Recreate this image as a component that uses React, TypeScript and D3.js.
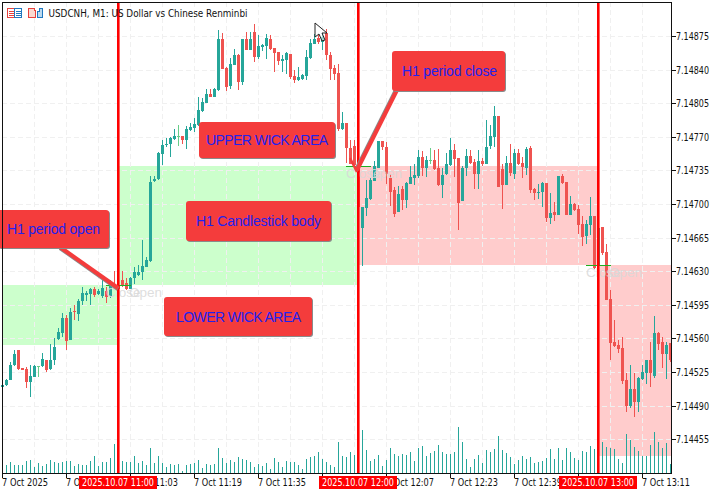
import React from 'react';
import * as d3 from 'd3';

const WIDTH = 724;
const HEIGHT = 494;
const PLOT = { left: 2, right: 671, top: 2, bottom: 473 };

const UP = '#26a69a';
const DOWN = '#ef5350';
const DOJI = '#66cc88';

// M1 bars, price in points above 7.14000 (first bar is 10:29)
const opens = [
  509,511,517,532,548,529,528,515,520,531,
  531,538,528,537,559,566,581,558,589,585,
  599,605,606,611,606,604,609,604,615,615,
  621,618,611,623,626,629,634,641,724,726,
  752,761,762,768,771,771,767,777,779,782,
  797,805,815,811,819,872,842,823,845,855,
  827,872,860,879,853,864,865,872,862,858,
  849,850,856,833,829,830,833,852,867,873,
  869,878,855,842,836,778,784,758,760,741,
  675,696,705,724,738,766,759,727,715,692,
  716,704,721,727,729,749,738,746,746,737,
  720,731,741,756,748,703,738,750,744,731,
  745,742,760,770,792,736,720,743,731,753,
  743,738,758,716,711,712,722,685,692,689,
  729,723,689,700,695,679,667,678,687,636,
  676,650,601,556,553,550,517,490,507,494,
  518,524,537,521,566,556,544,555,
];
const highs = [
  511,518,535,548,548,529,530,532,532,531,
  545,538,554,560,571,586,584,592,595,601,
  614,609,612,614,611,621,614,621,630,622,
  630,623,624,634,636,662,645,729,729,754,
  767,769,770,778,782,771,781,784,790,811,
  810,820,820,821,881,878,843,852,861,856,
  872,879,879,888,876,867,877,876,862,858,
  855,858,856,840,843,835,860,872,877,876,
  878,882,858,845,846,796,784,767,767,743,
  697,725,727,745,766,766,765,731,718,719,
  719,723,740,742,756,755,750,758,756,757,
  737,753,769,762,748,740,757,756,747,756,
  748,788,782,802,792,742,750,762,757,757,
  749,759,760,717,721,723,722,711,702,729,
  731,723,708,701,699,688,683,707,688,677,
  676,658,610,579,558,561,524,532,524,520,
  532,537,556,583,567,561,556,555,
];
const lows = [
  509,510,517,531,527,527,508,499,520,520,
  530,525,527,532,558,561,548,558,579,578,
  595,599,595,603,605,602,597,602,612,610,
  614,610,611,617,625,621,634,640,723,725,
  741,759,749,767,760,762,757,776,775,781,
  796,805,811,811,818,841,818,820,845,819,
  824,860,860,848,851,859,851,860,837,845,
  837,835,830,826,828,829,829,851,867,867,
  860,850,829,829,776,777,743,742,741,696,
  635,688,704,724,737,756,721,698,686,692,
  694,696,721,720,727,729,728,742,735,719,
  706,730,740,728,673,703,729,742,716,716,
  740,742,757,759,718,695,720,729,726,741,
  727,730,711,704,705,697,681,679,682,689,
  721,689,689,693,669,656,658,668,632,635,
  647,600,538,551,545,513,483,488,478,483,
  517,512,509,519,548,529,518,535,
];
const closes = [
  511,517,532,544,528,527,515,521,531,531,
  539,527,538,551,567,581,557,588,587,599,
  607,607,611,605,609,613,603,616,612,611,
  616,611,623,629,629,635,642,723,726,753,
  761,763,769,771,771,767,778,780,783,798,
  806,815,811,820,872,841,822,846,855,827,
  872,860,872,853,865,866,873,861,857,849,
  851,857,832,829,832,834,853,868,872,869,
  874,855,841,835,778,784,758,742,741,697,
  697,706,725,740,766,759,731,713,690,710,
  704,722,728,730,749,738,746,746,736,720,
  730,742,756,747,701,738,750,743,731,745,
  742,759,771,792,718,720,743,732,753,742,
  739,757,715,711,713,722,685,691,689,729,
  722,689,700,694,678,666,679,687,633,675,
  649,600,555,552,549,516,490,507,494,519,
  525,537,524,566,554,544,553,537,
];
const volumes = [
  6,8,11,8,8,8,12,13,6,10,7,
  9,13,11,10,11,12,12,7,9,8,
  8,12,17,7,11,11,15,29,20,12,
  11,11,17,10,12,8,25,10,17,10,
  6,9,8,9,2,8,9,10,13,5,
  9,8,9,25,15,10,13,11,16,
  14,13,11,6,9,7,10,4,15,11,
  6,12,11,11,8,4,14,16,17,21,
  14,11,8,6,31,17,16,21,18,20,
  43,23,12,14,18,7,13,25,19,17,
  19,18,21,12,25,27,17,20,22,28,
  21,19,19,21,46,31,14,6,14,18,
  10,23,21,24,37,23,20,16,9,13,
  17,14,16,10,11,12,15,24,14,25,
  13,25,21,15,13,22,21,27,24,22,
  31,26,25,24,14,10,39,33,26,22,17,17,28,41,31,25,30,9,
];

// H1 bars behind the M1 chart (bar index of the hour start, open, close in points)
const hourStarts = [-31, 29, 89, 149];
const hourOpens = [553, 616, 740, 636];
const hourCloses = [616, 740, 636, 437];

const periodBars = [29, 89, 149];
const periodLabels = ['2025.10.07 11:00', '2025.10.07 12:00', '2025.10.07 13:00'];
const periodLevels = [616, 740, 636];

const yTickLabels = ['7.14875', '7.14840', '7.14805', '7.14770', '7.14735', '7.14700', '7.14665', '7.14630', '7.14595', '7.14560', '7.14525', '7.14490', '7.14455'];
const xTickLabels = ['7 Oct 2025', '7 Oct 10:47', '7 Oct 11:03', '7 Oct 11:19', '7 Oct 11:35', '7 Oct 11:51', '7 Oct 12:07', '7 Oct 12:23', '7 Oct 12:39', '7 Oct 12:55', '7 Oct 13:11'];

const noteBoxes = [
  { text: 'H1 period open', x: -2, y: 210, w: 111, h: 38, tx: 7, tw: 93 },
  { text: 'UPPER WICK AREA', x: 199, y: 122, w: 136, h: 36, tx: 206, tw: 122 },
  { text: 'H1 Candlestick body', x: 186, y: 201, w: 145, h: 40, tx: 196, tw: 125 },
  { text: 'LOWER WICK AREA', x: 164, y: 297, w: 148, h: 39, tx: 176, tw: 125 },
  { text: 'H1 period close', x: 392, y: 51, w: 113, h: 40, tx: 402, tw: 95 },
];

const FONT = '"DejaVu Sans", sans-serif';
const NOTE_FONT = '"Liberation Sans", sans-serif';

export default function App() {
  const xScale = d3.scaleLinear().domain([0, 167]).range([PLOT.left, PLOT.left + 167 * 4]);
  const yScale = d3.scaleLinear().domain([7.14455, 7.14875]).range([439.2, 36]);
  const priceY = (pts: number) => yScale(7.14 + pts / 100000);
  const volY = d3.scaleLinear().domain([0, 100]).range([PLOT.bottom, PLOT.bottom - 100]);

  const gridX = d3.range(8, 168, 8).map(i => xScale(i));
  const xTicks = xTickLabels.map((label, k) => ({ label, x: xScale(k * 16) }));

  return (
    <svg width={WIDTH} height={HEIGHT} style={{ position: 'absolute', left: 0, top: 0, background: '#fff' }}>
      {/* H1 candles as shaded rectangles */}
      <g shapeRendering="crispEdges">
        {hourStarts.map((start, k) => {
          const x0 = Math.max(xScale(start), PLOT.left + 1);
          const x1 = k < hourStarts.length - 1 ? xScale(hourStarts[k + 1]) : PLOT.right;
          const top = Math.round(priceY(Math.max(hourOpens[k], hourCloses[k])));
          const bottom = Math.round(priceY(Math.min(hourOpens[k], hourCloses[k])));
          return (
            <rect key={k} x={x0} y={top} width={x1 - x0} height={bottom - top}
              fill={hourCloses[k] > hourOpens[k] ? '#ccffcc' : '#ffcccc'} />
          );
        })}
      </g>

      {/* grid */}
      <g stroke="#f0f0f0" strokeDasharray="5 3" shapeRendering="crispEdges">
        {yTickLabels.map(t => (
          <line key={t} x1={PLOT.left} x2={PLOT.right} y1={Math.round(yScale(+t)) + 0.5} y2={Math.round(yScale(+t)) + 0.5} />
        ))}
        {gridX.map(x => (
          <line key={x} x1={x + 0.5} x2={x + 0.5} y1={PLOT.top} y2={PLOT.bottom} />
        ))}
      </g>

      {/* volumes and candles */}
      <g shapeRendering="crispEdges">
        {volumes.map((v, i) => (
          <rect key={i} x={xScale(i)} y={volY(v)} width={1} height={PLOT.bottom - volY(v)} fill={UP} />
        ))}
        {opens.map((open, i) => {
          const close = closes[i];
          const color = close > open ? UP : close < open ? DOWN : DOJI;
          const hi = Math.round(priceY(highs[i]));
          const lo = Math.round(priceY(lows[i]));
          const top = Math.round(priceY(Math.max(open, close)));
          const bottom = Math.round(priceY(Math.min(open, close)));
          const x = xScale(i);
          return (
            <g key={i} fill={color}>
              <rect x={x} y={hi} width={1} height={Math.max(1, lo - hi)} />
              <rect x={x - 1} y={top} width={3} height={close === open ? 1 : Math.max(1, bottom - top)} />
            </g>
          );
        })}
      </g>

      {/* small green marks and Close/Open captions at each hour */}
      {periodBars.map((bar, k) => {
        const x = xScale(bar);
        const y = Math.round(priceY(periodLevels[k]));
        return (
          <g key={bar}>
            <rect x={x - 12} y={y} width={25} height={1} fill="#1fae1f" shapeRendering="crispEdges" />
            <text x={x - 12} y={y + 12} fontFamily={NOTE_FONT} fontSize={13.5} fill="#d8d8d8" fillOpacity={0.85}>Close</text>
            <text x={x + 11} y={y + 12} fontFamily={NOTE_FONT} fontSize={13.5} fill="#d8d8d8" fillOpacity={0.85}>Open</text>
          </g>
        );
      })}

      {/* hour lines */}
      <g fill="#ff0000">
        {periodBars.map(bar => (
          <rect key={bar} x={xScale(bar) - 1} y={PLOT.top} width={2.6} height={PLOT.bottom - PLOT.top} />
        ))}
      </g>

      {/* arrows */}
      <g fill="none">
        <path d="M60 247 L118 288" stroke="#8a8a8a" strokeWidth={4} transform="translate(0,1)" />
        <path d="M60 247 L118 288" stroke="#f43c3c" strokeWidth={4} />
        <path d="M398 88 L357 170" stroke="#8a8a8a" strokeWidth={4} transform="translate(-1,0)" />
        <path d="M398 88 L357 170" stroke="#f43c3c" strokeWidth={4} />
        <path d="M350 158 L357 172" stroke="#f43c3c" strokeWidth={2.5} />
      </g>

      {/* note boxes */}
      {noteBoxes.map(b => (
        <g key={b.text}>
          <rect x={b.x + 1} y={b.y + 1} width={b.w} height={b.h} rx={3} fill="#8a8a8a" />
          <rect x={b.x} y={b.y} width={b.w} height={b.h} rx={3} fill="#f43c3c" />
          <text x={b.tx} y={b.y + b.h / 2 + 5} textLength={b.tw} lengthAdjust="spacing"
            fontFamily={NOTE_FONT} fontSize={14} fill="#2222ee">{b.text}</text>
        </g>
      ))}

      {/* frame and axes */}
      <g fill="#111" shapeRendering="crispEdges">
        <rect x={PLOT.left} y={PLOT.top} width={PLOT.right - PLOT.left + 1} height={1} />
        <rect x={PLOT.left} y={PLOT.bottom} width={PLOT.right - PLOT.left + 1} height={1} />
        <rect x={PLOT.left} y={PLOT.top} width={1} height={PLOT.bottom - PLOT.top} />
        <rect x={PLOT.right} y={PLOT.top} width={1} height={PLOT.bottom - PLOT.top} />
        {yTickLabels.map(t => (
          <rect key={t} x={PLOT.right} y={Math.round(yScale(+t))} width={5} height={1} />
        ))}
        {xTicks.map(t => (
          <rect key={t.label} x={t.x} y={PLOT.bottom} width={1} height={5} />
        ))}
      </g>
      <g fontFamily={FONT} fontSize={10} fontStretch="condensed" fill="#111">
        {yTickLabels.map(t => (
          <text key={t} x={676} y={Math.round(yScale(+t)) + 4} textLength={33} lengthAdjust="spacingAndGlyphs">{t}</text>
        ))}
        {xTicks.map(t => (
          <text key={t.label} x={t.x} y={486} textLength={t.label === '7 Oct 2025' ? 46 : 48} lengthAdjust="spacingAndGlyphs">{t.label}</text>
        ))}
      </g>

      {/* red date labels */}
      {periodBars.map((bar, k) => (
        <g key={bar}>
          <rect x={xScale(bar) - 39} y={476} width={78} height={13} fill="#ff0000" shapeRendering="crispEdges" />
          <text x={xScale(bar) - 36} y={486} textLength={72} lengthAdjust="spacingAndGlyphs" fontFamily={FONT} fontStretch="condensed" fontSize={10} fill="#fff">{periodLabels[k]}</text>
        </g>
      ))}

      {/* header: icons and title */}
      <g fill="none" shapeRendering="crispEdges">
        <rect x={7.5} y={8.5} width={7} height={9} stroke="#e8413c" />
        <rect x={14.5} y={8.5} width={7} height={9} stroke="#1f78c0" />
        <path d="M9 11.5h5M9 13.5h5M9 15.5h5" stroke="#e8413c" />
        <path d="M16 11.5h5M16 13.5h5M16 15.5h5" stroke="#1f78c0" />
        <path d="M28.5 8.5h6v2h1v7h-7z" stroke="#e8413c" fill="#fbd9d0" />
        <path d="M37.5 11.5h2v-3h3v9h-5z" stroke="#1f78c0" fill="#bcd9ee" />
      </g>
      <text x={48.5} y={17} textLength={199} lengthAdjust="spacingAndGlyphs" fontFamily={FONT} fontStretch="condensed" fontSize={11} fill="#111">USDCNH, M1: US Dollar vs Chinese Renminbi</text>

      {/* mouse pointer left in the screenshot */}
      <path d="M315 23 L315 37 L319 34 L322 41 L325 40 L322 33 L327 33 Z" fill="#ffffff" fillOpacity={0.55} stroke="#222" strokeWidth={1} />
    </svg>
  );
}
